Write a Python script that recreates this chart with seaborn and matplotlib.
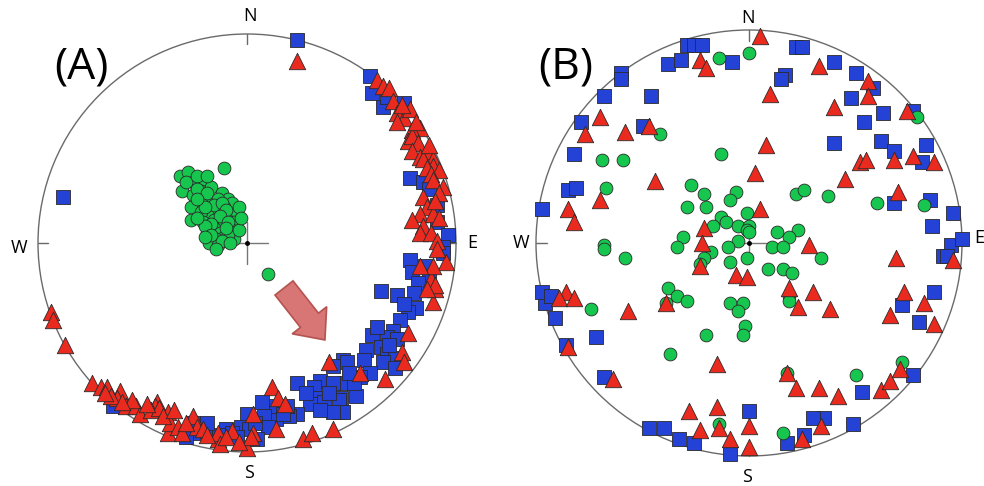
import matplotlib
matplotlib.use("Agg")
import matplotlib.pyplot as plt
import seaborn as sns
import pandas as pd
from matplotlib.patches import Circle, FancyArrow

# ---------------- data (east, north) in units of % of net radius ----------------
# Panel A
A_blue_x = [24, -88, 59, 60, 65, 67, 75, 78, 84, 87, 91, 91, 96, 94, 94, 78, 85, 79, 87, 82,
            64, 72, 80, 81, 77, 73, 70, 60, 67, 72, 57, 64, 67, 71, 56, 65, 71, 59, 54, 47,
            46, 52, 45, 44, 41, 35, 32, 24, 41, 51, 35, 30, 37, 44, 46, 41, 35, 24, 20, 14,
            19, 14, 7, 0, 8, -3, 1, 10, 5, -10, -14, -20, -26, -29, -19, -26, -7, -64, 48, 49,
            62, 75, 68, 39, 28, 17, 4, -5]
A_blue_y = [97, 22, 80, 72, 65, 70, 67, 31, 29, 26, 18, 10, 4, -2, -5, -8, -11, -14, -16, -19,
            -23, -25, -24, -31, -33, -37, -42, -44, -45, -46, -51, -50, -53, -55, -56, -57, -60, -62, -64, -67,
            -56, -73, -74, -81, -59, -66, -69, -67, -67, -67, -74, -77, -76, -75, -81, -81, -80, -82, -83, -84,
            -78, -78, -76, -82, -83, -88, -89, -88, -94, -89, -92, -90, -91, -93, -86, -86, -91, -78, -57, -62,
            -40, -29, -49, -72, -72, -82, -86, -93]

A_red_x = [24, -94, -93, -87, -74, -70, -67, -61, -62, -65, -58, -53, -51, -43, -44, -38, -38, -46, -42, -37,
           -33, -31, -26, -24, -21, -14, -14, -7, 0, 3, 3, 12, 15, 18, 14, 27, 31, 41, 39, 66,
           74, 77, 89, 90, 88, 95, 89, -13, 2, 62, 65, 68, 70, 72, 75, 78, 72, 83, 79, 77,
           79, 82, 86, 79, 83, 89, 84, 89, 92, 86, 88, 89, 94, 92, 84, 86, 83, 89, 92, 79,
           84, 83, 88, 91, 91, 83, 90, 86, 75, 54, -55, -48, -40, -35, -29, -19, -10, -4, -60, -68,
           74, 81, 87, 90]
A_red_y = [87, -33, -37, -49, -67, -69, -69, -71, -74, -73, -78, -78, -82, -76, -78, -81, -91, -80, -79, -86,
           -88, -91, -83, -88, -89, -94, -91, -90, -98, -91, -82, -69, -74, -77, -89, -94, -91, -89, -57, -65,
           -52, -43, -28, -22, -17, -9, -11, -96, -93, 78, 75, 74, 68, 62, 60, 64, 58, 55, 54, 49,
           51, 48, 44, 44, 41, 40, 40, 37, 35, 36, 33, 30, 27, 24, 22, 17, 14, 14, 12, 11,
           8, 5, 5, 1, -3, -11, -20, -22, -57, -62, -75, -77, -83, -80, -86, -92, -93, -95, -76, -72,
           66, 58, 47, 20]

A_green_x = [-32, -28, -11, -31, -26, -21, -22, -26, -17, -12, -18, -22, -27, -9, -7, -11, -14, -19, -22,
             -27, -21, -16, -8, -5, -6, -11, -16, -19, -13, -7, -6, -11, -15, -18, -14, 10,
             -29, -24, -19, -24, -19, -14, -16, -12, -20, -24, -10, -13, -9, -17, -20, -24, -9, -12,
             -17, -10, -4, -8, -20, -15, -4, -3]
A_green_y = [32, 34, 36, 25, 29, 29, 25, 23, 27, 24, 21, 19, 17, 21, 19, 17, 15, 14, 15,
             11, 10, 11, 13, 15, 10, 9, 7, 5, 5, 6, 2, 3, 2, 0, -1, -15,
             29, 32, 32, 26, 24, 21, 18, 19, 17, 21, 16, 13, 10, 9, 8, 12, 4, 1,
             4, 7, 6, 0, 3, -3, 17, 12]

# Panel B
B_blue_x = [-29, -26, -22, -38, -32, -8, -60, -60, -68, -46, -79, -50, -82, -85, -81, -97, 22, 25, 17, 15,
            40, 50, 58, 48, 63, 54, 77, 40, 62, 68, 83, 81, 68, 85, 96, 86, 95, 100, 91, 93,
            87, 72, 80, 77, 53, 49, 35, 30, 26, 18, 0, -9, -26, -33, -40, -47, -68, -86, -72, -91,
            -96, -97, -93]
B_blue_y = [93, 93, 93, 84, 86, 85, 80, 77, 69, 69, 57, 55, 42, 25, 26, 16, 92, 92, 79, 77,
            85, 80, 73, 68, 61, 57, 62, 47, 48, 43, 46, 38, 19, 20, 14, 8, -1, 2, -6, -6,
            -23, -29, -37, -62, -70, -85, -82, -82, -90, -94, -79, -99, -94, -92, -87, -87, -63, -48, -44, -35,
            -28, -23, -25]

B_red_x = [5, -23, -20, 33, 10, 56, 56, 40, 74, -70, -77, -58, -47, 8, 3, 52, 55, 68, 77, 87,
           45, 70, -44, -70, -85, -82, 5, -21, -22, -23, -6, -1, 28, 69, 96, 19, 30, 23, 38, 73,
           82, 66, 87, -86, -89, -82, -57, -39, -85, -64, -15, 18, 22, 33, 42, 62, 66, 71, -28, -15,
           -23, -14, -9, 0, 0, 25, 34]
B_red_y = [97, 86, 82, 83, 70, 76, 69, 64, 62, 59, 51, 52, 55, 46, 33, 38, 39, 39, 41, 38,
           30, 24, 29, 20, 16, 10, 16, 7, 0, -11, -15, -16, -1, -7, -8, -21, -23, -30, -31, -23,
           -28, -34, -38, -23, -26, -26, -32, -28, -49, -64, -57, -61, -68, -68, -72, -69, -65, -59, -79, -77,
           -88, -87, -92, -86, -96, -92, -86]

B_green_x = [0, -14, -42, 79, -13, -69, -59, -67, -27, -21, -6, -9, -29, -20, 22, 26, 37, 60, 82, -1,
             -13, -11, -17, -5, 0, -1, 0, 13, 23, 19, -5, -10, 11, 16, -31, -34, -18, -21, -68, -68,
             -58, 34, -1, -9, -23, 9, 16, 20, -38, -34, -29, -39, 19, 19, -9, -3, -5, -2, -3, -20,
             -74, -37, 72, 50, 18, -14, 16]
B_green_y = [89, 87, 51, 59, 42, 39, 39, 26, 27, 23, 24, 20, 17, 17, 23, 25, 22, 19, 18, 14,
             12, 10, 8, 8, 8, 6, 5, 5, 6, 3, 1, -2, -2, -2, 3, -2, -4, -7, -1, -3,
             -7, -7, -7, -9, -10, -12, -12, -14, -21, -25, -27, -28, -25, -27, -28, -28, -32, -39, -43, -43,
             -31, -52, -56, -62, -61, -85, -89]

# ---------------- styling ----------------
BLUE, RED, GREEN = "#2442d6", "#ea2a1e", "#16c64e"
EDGE = "#2a2a2a"
W, H = 984, 486
S_SQ, S_TRI, S_CIR = 100, 140, 85

sns.set_theme(style="white")
plt.rcParams['font.family'] = ['Open Sans', 'DejaVu Sans']

fig = plt.figure(figsize=(W / 100, H / 100), dpi=100)


def make_ax(cx, cy, r, ext=1.16):
    half = ext * r
    ax = fig.add_axes([(cx - half) / W, (H - cy - half) / H, 2 * half / W, 2 * half / H])
    ax.set_xlim(-100 * ext, 100 * ext)
    ax.set_ylim(-100 * ext, 100 * ext)
    ax.set_aspect('equal')
    ax.axis('off')
    return ax


def draw_net(ax, label, lab_pos, dirs):
    ax.add_patch(Circle((0, 0), 100, fill=False, ec="#6a6a6a", lw=1.0, zorder=1))
    tick = 5
    for (x0, y0, x1, y1) in [(0, 100, 0, 100 - tick), (0, -100, 0, -100 + tick),
                             (100, 0, 100 - tick, 0), (-100, 0, -100 + tick, 0)]:
        ax.plot([x0, x1], [y0, y1], color="#6a6a6a", lw=1.0, zorder=1)
    arm = 10
    ax.plot([-arm, arm], [0, 0], color="#777777", lw=1.0, zorder=1)
    ax.plot([0, 0], [-arm, arm], color="#777777", lw=1.0, zorder=1)
    ax.plot([0], [0], marker='o', ms=2.5, color="black", zorder=1)
    ax.text(lab_pos[0], lab_pos[1], label, fontsize=32, ha='center', va='center', color='black')
    for txt, (x, y) in dirs.items():
        ax.text(x, y, txt, fontsize=13, ha='center', va='center', color='black')


def scatter(ax, xs, ys, marker, color, s, z):
    df = pd.DataFrame({"x": xs, "y": ys})
    sns.scatterplot(data=df, x="x", y="y", ax=ax, marker=marker, color=color, s=s,
                    edgecolor=EDGE, linewidth=0.6, legend=False, zorder=z)
    ax.set_xlabel("")
    ax.set_ylabel("")


# Panel A
axA = make_ax(247, 243, 209)
draw_net(axA, "(A)", (-79, 84),
         {"N": (1.4, 108.6), "W": (-109, -2.4), "E": (108, 0), "S": (1, -110)})
ARROW_TAIL = (17.7, -21.5)
ARROW_VEC = (19.6, -24.9)
axA.add_patch(FancyArrow(ARROW_TAIL[0], ARROW_TAIL[1], ARROW_VEC[0], ARROW_VEC[1],
                         width=11, head_width=21, head_length=12, length_includes_head=True,
                         fc="#d46a68", ec="#b04c4a", lw=1.2, alpha=0.92, zorder=2))
scatter(axA, A_blue_x, A_blue_y, 's', BLUE, S_SQ, 3)
scatter(axA, A_red_x, A_red_y, '^', RED, S_TRI, 4)
scatter(axA, A_green_x, A_green_y, 'o', GREEN, S_CIR, 5)

# Panel B
axB = make_ax(749, 243, 213)
draw_net(axB, "(B)", (-86, 82.6),
         {"N": (-0.5, 105.6), "W": (-107, 0), "E": (108, 2.3), "S": (-1, -110)})
scatter(axB, B_blue_x, B_blue_y, 's', BLUE, S_SQ, 3)
scatter(axB, B_green_x, B_green_y, 'o', GREEN, S_CIR, 4)
scatter(axB, B_red_x, B_red_y, '^', RED, S_TRI, 5)

fig.savefig("out.png", dpi=100)
